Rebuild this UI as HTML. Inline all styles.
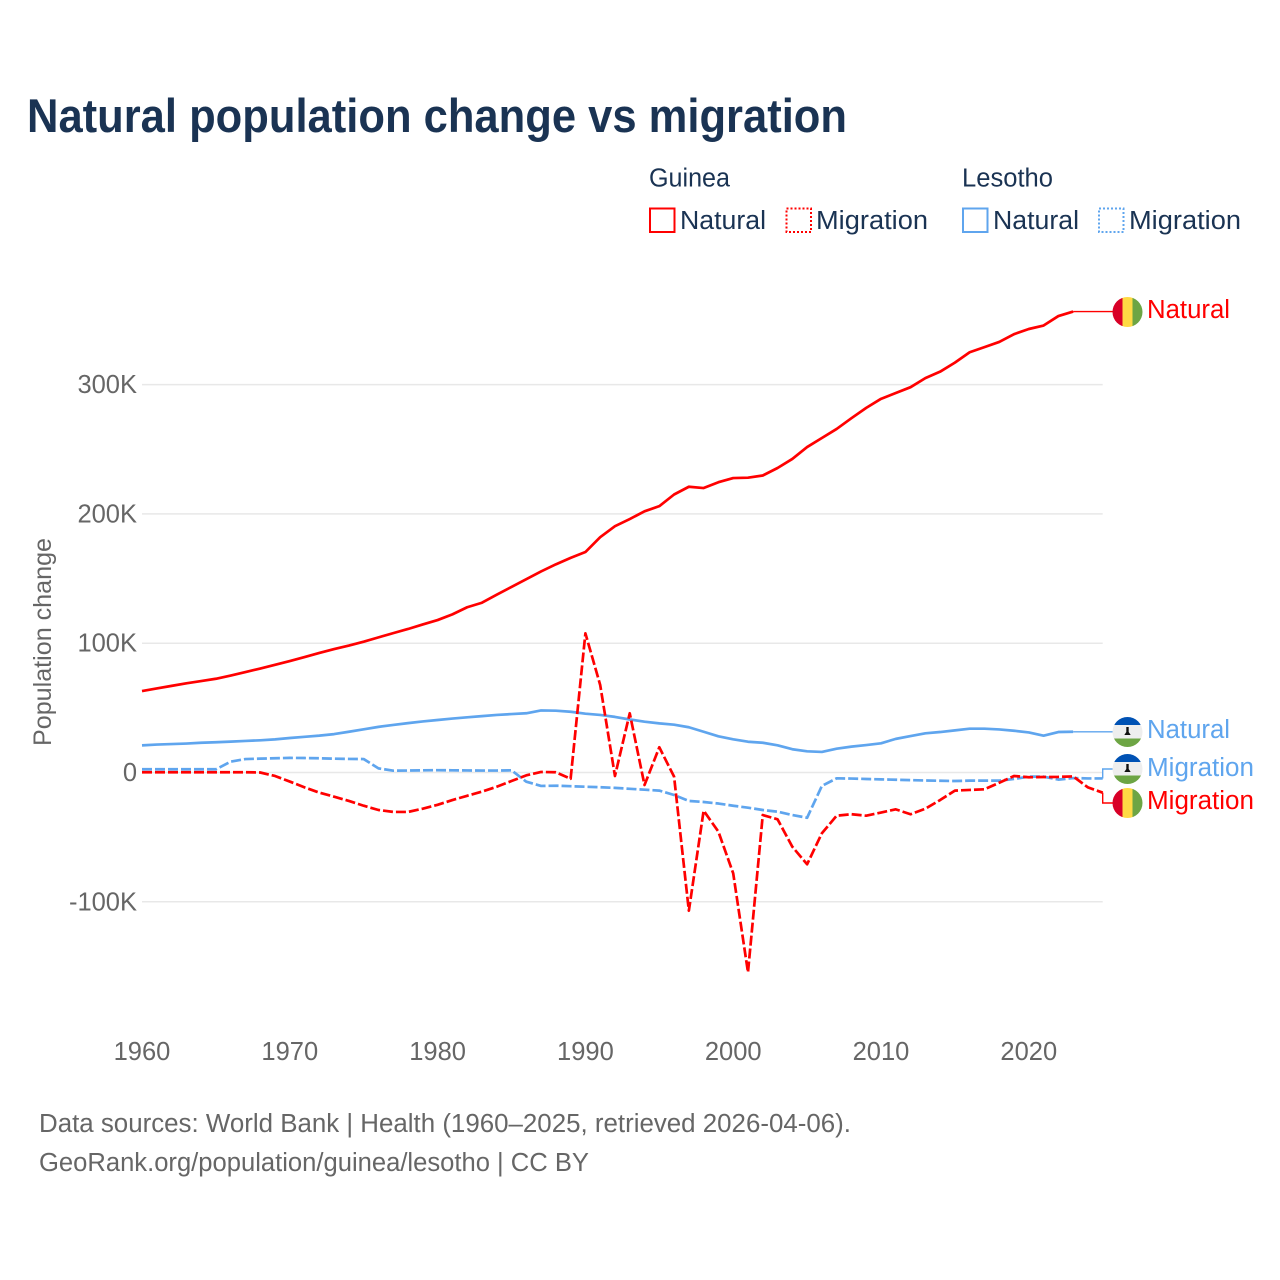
<!DOCTYPE html>
<html lang="en">
<head>
<meta charset="utf-8">
<title>Natural population change vs migration</title>
<style>
html,body{margin:0;padding:0;background:#fff;}
svg{display:block;font-family:"Liberation Sans",sans-serif;}
</style>
</head>
<body>
<svg id="chart" width="1280" height="1280" viewBox="0 0 1280 1280" xmlns="http://www.w3.org/2000/svg">
  <defs>
    <clipPath id="flag-clip"><circle cx="0" cy="0" r="15"></circle></clipPath>
  </defs>
  <text x="27" y="132" font-size="47" font-weight="700" fill="#1a3353" textLength="820" lengthAdjust="spacingAndGlyphs">Natural population change vs migration</text>

  <g font-size="25.5" fill="#1a3353">
    <text x="649" y="186.5" textLength="81" lengthAdjust="spacingAndGlyphs">Guinea</text>
    <text x="962" y="186.5" textLength="91" lengthAdjust="spacingAndGlyphs">Lesotho</text>
    <rect x="650" y="208.5" width="24.5" height="23.5" fill="none" stroke="#ff0000" stroke-width="2"></rect>
    <text x="680" y="229" textLength="86" lengthAdjust="spacingAndGlyphs">Natural</text>
    <rect x="786.5" y="208.5" width="24.5" height="23.5" fill="none" stroke="#ff0000" stroke-width="2" stroke-dasharray="2,2"></rect>
    <text x="816" y="229" textLength="112" lengthAdjust="spacingAndGlyphs">Migration</text>
    <rect x="963" y="208.5" width="24.5" height="23.5" fill="none" stroke="#5fa5ee" stroke-width="2"></rect>
    <text x="993" y="229" textLength="86" lengthAdjust="spacingAndGlyphs">Natural</text>
    <rect x="1099" y="208.5" width="24.5" height="23.5" fill="none" stroke="#5fa5ee" stroke-width="2" stroke-dasharray="2,2"></rect>
    <text x="1129" y="229" textLength="112" lengthAdjust="spacingAndGlyphs">Migration</text>
  </g>

  <text transform="translate(51,642) rotate(-90)" text-anchor="middle" font-size="25" fill="#666666" textLength="208" lengthAdjust="spacingAndGlyphs">Population change</text>

  <g id="grid"></g>
  <g id="y-ticks" font-size="25.5" fill="#666666" text-anchor="end"></g>
  <g id="x-ticks" font-size="25.5" fill="#666666" text-anchor="middle"></g>
  <g id="connectors"></g>
  <g id="series"></g>

  <g font-size="25.5">
    <g transform="translate(1127.5,312)">
      <g clip-path="url(#flag-clip)">
        <rect x="-15" y="-15" width="10" height="30" fill="#d80027"></rect>
        <rect x="-5" y="-15" width="10" height="30" fill="#ffda44"></rect>
        <rect x="5" y="-15" width="10" height="30" fill="#6da544"></rect>
      </g>
    </g>
    <g transform="translate(1127.5,732)">
      <g clip-path="url(#flag-clip)">
        <rect x="-15" y="-15" width="30" height="8" fill="#0052b4"></rect>
        <rect x="-15" y="-7" width="30" height="13.5" fill="#eeeeee"></rect>
        <rect x="-15" y="6.5" width="30" height="8.5" fill="#6da544"></rect>
        <path d="M-1.2,-5 H1.2 V0 L3.2,3 H-3.2 L-1.2,0 Z" fill="#111111"></path>
      </g>
    </g>
    <g transform="translate(1127.5,769)">
      <g clip-path="url(#flag-clip)">
        <rect x="-15" y="-15" width="30" height="8" fill="#0052b4"></rect>
        <rect x="-15" y="-7" width="30" height="13.5" fill="#eeeeee"></rect>
        <rect x="-15" y="6.5" width="30" height="8.5" fill="#6da544"></rect>
        <path d="M-1.2,-5 H1.2 V0 L3.2,3 H-3.2 L-1.2,0 Z" fill="#111111"></path>
      </g>
    </g>
    <g transform="translate(1127.5,803)">
      <g clip-path="url(#flag-clip)">
        <rect x="-15" y="-15" width="10" height="30" fill="#d80027"></rect>
        <rect x="-5" y="-15" width="10" height="30" fill="#ffda44"></rect>
        <rect x="5" y="-15" width="10" height="30" fill="#6da544"></rect>
      </g>
    </g>
    <text x="1147" y="318" fill="#ff0000" textLength="83" lengthAdjust="spacingAndGlyphs">Natural</text>
    <text x="1147" y="738" fill="#5fa5ee" textLength="83" lengthAdjust="spacingAndGlyphs">Natural</text>
    <text x="1147" y="776" fill="#5fa5ee" textLength="107" lengthAdjust="spacingAndGlyphs">Migration</text>
    <text x="1147" y="809" fill="#ff0000" textLength="107" lengthAdjust="spacingAndGlyphs">Migration</text>
  </g>

  <g font-size="25.5" fill="#666666">
    <text x="39" y="1132" textLength="812" lengthAdjust="spacingAndGlyphs">Data sources: World Bank | Health (1960–2025, retrieved 2026-04-06).</text>
    <text x="39" y="1171" textLength="550" lengthAdjust="spacingAndGlyphs">GeoRank.org/population/guinea/lesotho | CC BY</text>
  </g>
</svg>

<script>
const startYear = 1960;
const xTickYears = [1960, 1970, 1980, 1990, 2000, 2010, 2020];
const yTickValues = [-100, 0, 100, 200, 300];
const yTickLabels = ["-100K", "0", "100K", "200K", "300K"];

// All series are in thousands, one value per year from 1960
const guineaNatural = [63,65,67,69,70.7,72.5,75,77.7,80.4,83.3,86.2,89.3,92.5,95.5,98.2,101.2,104.5,107.8,111,114.5,117.9,122.3,127.8,131.3,137.5,143.5,149.5,155.5,161,166,170.5,182,190.5,196,202,206,215,221,220,224.5,227.7,228,229.7,235.5,242.5,251.7,258.7,265.7,274,282,289,293.5,298,305,310,317,325,329,333,339,343,345.7,353,356.5];
const guineaMigration = [0.2,0.2,0.2,0.2,0.2,0.2,0.2,0.2,0,-2.7,-7,-11.5,-15.6,-18.7,-22,-25.7,-29,-30.5,-30.5,-28,-25,-21.3,-18,-14.8,-11,-6.6,-2.2,0.4,0.2,-4.8,107.6,67.7,-2.7,45.8,-9.7,19.5,-3.2,-106.9,-29.5,-45.8,-78,-154.5,-32.9,-36.2,-57.4,-71,-47,-33.4,-32.3,-33.4,-31,-28.5,-32.3,-28,-21.3,-14,-13.5,-13,-7.9,-2.7,-3.7,-3.5,-3.4,-3,-11.5,-15.6];
const lesothoNatural = [21,21.6,22,22.4,23,23.4,23.9,24.4,24.9,25.6,26.7,27.6,28.5,29.7,31.5,33.4,35.3,36.8,38.2,39.5,40.6,41.7,42.7,43.6,44.5,45.2,45.8,48,47.8,47,45.5,44.5,43,41,39.3,38,37,35,31.5,28,25.7,23.8,23,21,18,16.4,15.9,18.4,20,21.2,22.6,26,28.2,30.3,31.3,32.6,33.9,33.9,33.3,32.3,31,28.5,31.3,31.5];
const lesothoMigration = [2.5,2.5,2.5,2.5,2.5,2.5,8.4,10.4,10.7,11,11.3,11.2,11,10.7,10.5,10.4,3.2,1.4,1.5,1.7,1.8,1.7,1.6,1.5,1.5,1.7,-7.1,-10.4,-10.2,-10.6,-11,-11.4,-11.9,-12.6,-13.3,-14,-17.4,-22,-22.8,-24,-25.7,-27.2,-29,-30.3,-32.9,-35,-10.4,-4.5,-4.7,-5,-5.3,-5.6,-5.9,-6.2,-6.4,-6.6,-6.3,-6.3,-6.3,-5,-3.2,-3.2,-5.5,-4.3,-4.6,-4.6];

const svgNS = "http://www.w3.org/2000/svg";
const red = "#ff0000";
const blue = "#5fa5ee";
function xScale(year) { return 142 + (year - startYear) * 14.78; }
function yScale(value) { return 772.5 - value * 1.293; }

const gridLayer = document.getElementById("grid");
const yTickLayer = document.getElementById("y-ticks");
yTickValues.forEach(function (v, i) {
  const line = document.createElementNS(svgNS, "line");
  
  
  line.setAttribute("x1", 142);
  line.setAttribute("x2", xScale(2025));
  line.setAttribute("y1", yScale(v));
  line.setAttribute("y2", yScale(v));
  line.setAttribute("stroke", "#e8e8e8");
  line.setAttribute("stroke-width", 1.5);
  gridLayer.appendChild(line);
  const label = document.createElementNS(svgNS, "text");
  
  
  label.setAttribute("x", 137);
  label.setAttribute("y", yScale(v) + 8.5);
  label.textContent = yTickLabels[i];
  yTickLayer.appendChild(label);
});

const xTickLayer = document.getElementById("x-ticks");
xTickYears.forEach(function (year) {
  const label = document.createElementNS(svgNS, "text");
  
  
  label.setAttribute("x", xScale(year));
  label.setAttribute("y", 1060);
  label.textContent = String(year);
  xTickLayer.appendChild(label);
});

function linePath(values) {
  return values.map(function (v, i) {
    return (i ? "L" : "M") + xScale(startYear + i).toFixed(2) + " " + yScale(v).toFixed(2);
  }).join(" ");
}
function drawConnector(values, color, flagY) {
  const lastX = xScale(startYear + values.length - 1);
  const lastY = yScale(values[values.length - 1]);
  const stepX = xScale(2025);
  const endY = flagY === null ? lastY : flagY;
  const p = document.createElementNS(svgNS, "path");
  
  
  p.setAttribute("d", "M" + lastX + " " + lastY + " H" + stepX + " V" + endY + " H1113");
  p.setAttribute("fill", "none");
  p.setAttribute("stroke", color);
  p.setAttribute("stroke-width", 1.4);
  document.getElementById("connectors").appendChild(p);
}
function drawSeries(name, values, color, dashed) {
  const p = document.createElementNS(svgNS, "path");
  
  
  p.setAttribute("d", linePath(values));
  p.setAttribute("fill", "none");
  p.setAttribute("stroke", color);
  p.setAttribute("stroke-width", 2.7);
  p.setAttribute("stroke-linejoin", "round");
  if (dashed) { p.setAttribute("stroke-dasharray", "10,3"); }
  document.getElementById("series").appendChild(p);
}

drawConnector(guineaNatural, red, null);
drawConnector(lesothoNatural, blue, null);
drawConnector(lesothoMigration, blue, 769);
drawConnector(guineaMigration, red, 803);
drawSeries("line-lesotho-natural", lesothoNatural, blue, false);
drawSeries("line-lesotho-migration", lesothoMigration, blue, true);
drawSeries("line-guinea-natural", guineaNatural, red, false);
drawSeries("line-guinea-migration", guineaMigration, red, true);
</script>
</body>
</html>
